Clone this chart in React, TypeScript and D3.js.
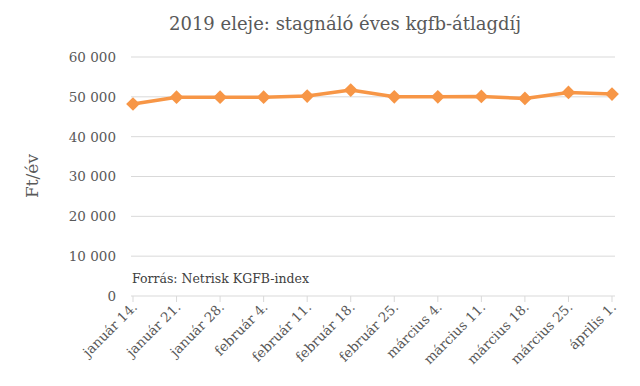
import React from 'react';
import * as d3 from 'd3';

const dates = [
  'január 14.', 'január 21.', 'január 28.', 'február 4.', 'február 11.', 'február 18.',
  'február 25.', 'március 4.', 'március 11.', 'március 18.', 'március 25.', 'április 1.',
];
const premiums = [48200, 49900, 49900, 49900, 50200, 51700, 50000, 50000, 50100, 49600, 51100, 50700];
const yTicks = [0, 10000, 20000, 30000, 40000, 50000, 60000];

const title = '2019 eleje: stagnáló éves kgfb-átlagdíj';
const yLabel = 'Ft/év';
const source = 'Forrás: Netrisk KGFB-index';

const W = 640;
const H = 386;
const font = '"DejaVu Serif", serif';
const textColor = '#595959';
const orange = '#F79646';

const fmt = (v: number) => (v === 0 ? '0' : d3.format(',')(v).replace(/,/g, ' '));

export default () => {
  const left = 131;
  const right = 615;
  const x = d3.scalePoint().domain(dates).range([133, 612]);
  const y = d3.scaleLinear().domain([0, 60000]).range([296, 57]);

  const line = d3.line<number>()
    .x((_, i) => x(dates[i]) as number)
    .y(d => y(d));

  const diamond = d3.symbol().type(d3.symbolDiamond2).size(120)();

  return (
    <svg width={W} height={H} style={{ position: 'absolute', left: 0, top: 0 }}>
      <rect width={W} height={H} fill="#fff" />
      <text x={345} y={30} textAnchor="middle" fontFamily={font} fontSize={18} fill={textColor}>
        {title}
      </text>
      <g>
        {yTicks.map(t => (
          <g key={t}>
            {t > 0 && (
              <line x1={left} x2={right} y1={y(t)} y2={y(t)} stroke="#d9d9d9" strokeWidth={1} />
            )}
            <text x={116} y={y(t)} dy="0.36em" textAnchor="end" fontFamily={font} fontSize={13.5} fill={textColor}>
              {fmt(t)}
            </text>
          </g>
        ))}
      </g>
      <line x1={left} x2={right} y1={y(0)} y2={y(0)} stroke="#d9d9d9" strokeWidth={1} />
      {dates.map(d => (
        <line key={d} x1={x(d)} x2={x(d)} y1={y(0)} y2={y(0) + 6} stroke="#d9d9d9" strokeWidth={1} />
      ))}
      {dates.map(d => (
        <text
          key={d}
          transform={`translate(${(x(d) as number) + 5},${y(0) + 12}) rotate(-45)`}
          textAnchor="end"
          fontFamily={font}
          fontSize={13.5}
          fill={textColor}
        >
          {d}
        </text>
      ))}
      <text
        transform={`translate(38,${176}) rotate(-90)`}
        textAnchor="middle"
        fontFamily={font}
        fontSize={17}
        fill={textColor}
      >
        {yLabel}
      </text>
      <text x={132} y={283} fontFamily={font} fontSize={12.5} fill="#404040">
        {source}
      </text>
      <path d={line(premiums) || ''} fill="none" stroke={orange} strokeWidth={3.5} strokeLinejoin="round" />
      {premiums.map((v, i) => (
        <path key={i} d={diamond || ''} transform={`translate(${x(dates[i])},${y(v)})`} fill={orange} />
      ))}
    </svg>
  );
};
